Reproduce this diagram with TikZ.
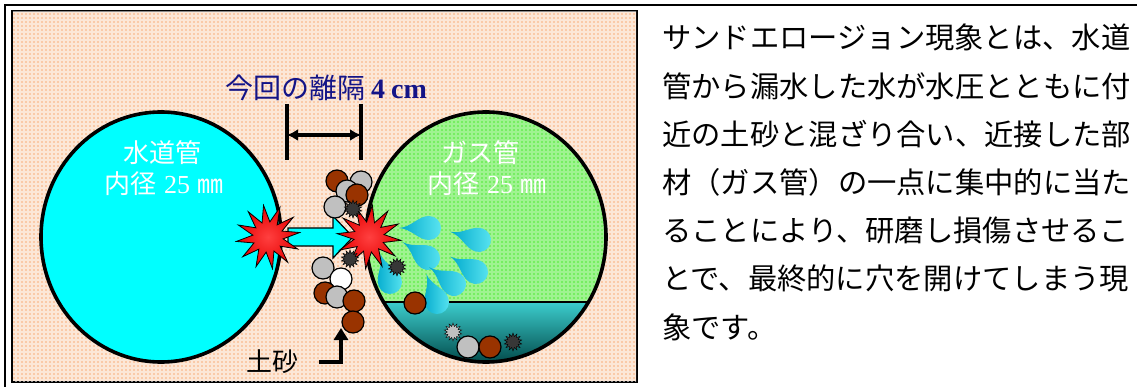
\documentclass[tikz,border=0pt]{standalone}
\usepackage{fontspec}
\usepackage{tikz}
\usetikzlibrary{shapes.geometric,arrows.meta}

\newfontfamily\jp{Noto Sans CJK JP}
\newfontfamily\numfont{Liberation Serif}

\definecolor{peach}{RGB}{250,202,168}
\definecolor{gaspipe}{RGB}{118,238,98}
\definecolor{waterpipe}{RGB}{0,255,255}
\definecolor{sandbrown}{RGB}{153,51,0}
\definecolor{sandgray}{RGB}{192,192,192}
\definecolor{gritdark}{RGB}{55,55,55}
\definecolor{gaptext}{RGB}{20,20,135}
\definecolor{pooltop}{RGB}{60,205,205}
\definecolor{poolbottom}{RGB}{0,70,70}
\definecolor{dropdark}{RGB}{0,170,205}
\definecolor{droplight}{RGB}{90,228,240}

%% one water drop: head at (#1,#2), tail turned by #3
\newcommand{\waterdrop}[3]{%
  \begin{scope}[shift={(#1,#2)},rotate=#3]
    \shade[left color=dropdark, right color=droplight]
      (-30,0) .. controls (-17,-1) and (-11,-12) .. (0,-12)
      arc[start angle=-90,end angle=90,radius=12]
      .. controls (-11,12) and (-17,1) .. (-30,0);
  \end{scope}}

\begin{document}
\begin{tikzpicture}[x=1pt,y=-1pt,
  particle/.style={circle,draw=black,line width=1.2pt,minimum size=22,inner sep=0},
  brownsand/.style={particle,fill=sandbrown},
  graysand/.style={particle,fill=sandgray},
  whitesand/.style={particle,fill=white},
  grit/.style={star,star points=14,star point ratio=1.6,minimum size=18,inner sep=0,draw=black,fill=gritdark},
  burst/.style={star,star points=12,star point ratio=2.1,minimum size=64,inner sep=0,
    draw=black,line width=.8pt,inner color=red!75!white,outer color=red!90!black},
  pipelabel/.style={text=white,font=\fontsize{26}{26}\selectfont},
  desc/.style={anchor=base west,inner sep=0,font=\jp\fontsize{29.3}{29.3}\selectfont}
]
\useasboundingbox (0,0) rectangle (1137,387);

%% table lines
\draw[line width=1.6] (5,387) -- (5,5) -- (1137,5);

%% panel
\filldraw[fill=peach,draw=black,line width=2.2] (12,11) rectangle (637,382);
\begin{scope}
\clip (13,12) rectangle (636,381);
\draw[white,line width=1.1pt,opacity=.55,step=4pt] (12,11) grid (637,382);
\end{scope}

%% water pipe
\filldraw[fill=waterpipe,draw=black,line width=3.6] (161,237) ellipse [x radius=120,y radius=125];

%% gas pipe, with water pooled at the bottom
\fill[gaspipe] (486,237) ellipse [x radius=120,y radius=125];
\begin{scope}
\clip (486,237) ellipse [x radius=120,y radius=125];
\draw[white,line width=1.1pt,opacity=.3,step=4pt] (360,110) grid (610,365);
\shade[top color=pooltop,bottom color=poolbottom] (360,302) rectangle (610,365);
\draw[line width=1.4] (360,302) -- (610,302);
\end{scope}
\draw[line width=3.6] (486,237) ellipse [x radius=120,y radius=125];

%% spray
\waterdrop{429}{228}{0}
\waterdrop{479}{240}{-16}
\waterdrop{428}{258}{-32}
\waterdrop{476}{272}{-31}
\waterdrop{390}{282}{-71}
\waterdrop{454}{284}{-34}
\waterdrop{437}{302}{-69}

%% gap between pipes
\node[text=gaptext,inner sep=0] (gap) at (326,88)
  {{\jp\fontsize{28}{28}\selectfont 今回の離隔}\hspace{6pt}{\numfont\fontsize{28}{28}\selectfont\bfseries 4\hspace{6pt}cm}};
\coordinate (gapL) at (287,135);
\coordinate (gapR) at (361,135);
\draw[line width=3.4] (287,104) -- (287,160);
\draw[line width=3.4] (361,104) -- (361,160);
\draw[line width=3.2,{Latex[length=11pt,width=12pt]}-{Latex[length=11pt,width=12pt]}] (gapL) -- (gapR);

%% jet out of the water pipe
\filldraw[fill=waterpipe,draw=black,line width=1.2]
  (288,228) -- (333,228) -- (333,216) -- (353,237) -- (333,258) -- (333,246) -- (288,246) -- cycle;
\node[burst,shape border rotate=8] (leak) at (268,237) {};
\node[burst,shape border rotate=-6] (hit) at (369,237) {};

%% sand above the jet
\node[brownsand] (s1) at (337,181) {};
\node[graysand] (s2) at (361,182) {};
\node[graysand] (s3) at (347,191) {};
\node[brownsand] (s4) at (357,195) {};
\node[graysand] (s5) at (335,207) {};
\node[grit] (g1) at (353,209) {};

%% sand below the jet
\node[grit] (g2) at (350,259) {};
\node[graysand] (s6) at (323,268) {};
\node[whitesand] (s7) at (341,279) {};
\node[brownsand] (s8) at (325,293) {};
\node[graysand] (s9) at (337,297) {};
\node[brownsand] (s10) at (354,301) {};
\node[brownsand] (s11) at (353,322) {};

%% sand inside the gas pipe
\node[grit] (g3) at (397,267) {};
\node[brownsand] (s12) at (415,303) {};
\node[grit,fill=sandgray] (g4) at (453,332) {};
\node[graysand] (s13) at (468,347) {};
\node[brownsand] (s14) at (490,347) {};
\node[grit] (g5) at (513,342) {};

%% labels
\node[pipelabel] (wname) at (162,153) {\jp 水道管};
\node[pipelabel] (wsize) at (164,184) {{\jp 内径} {\numfont 25} {\jp ㎜}};
\node[pipelabel] (gname) at (480,153) {\jp ガス管};
\node[pipelabel] (gsize) at (487,184) {{\jp 内径} {\numfont 25} {\jp ㎜}};

\node[font=\jp\fontsize{26}{26}\selectfont] (sand) at (272,362) {土砂};
\coordinate (sandtip) at (341,328);
\draw[line width=3.4,-{Triangle[length=12pt,width=14pt]}] ([xshift=17]sand.east) -| (sandtip);

%% description
\node[desc] (line1) at (662,49) {サンドエロージョン現象とは、水道};
\node[desc] (line2) at (662,97.2) {管から漏水した水が水圧とともに付};
\node[desc] (line3) at (662,145.4) {近の土砂と混ざり合い、近接した部};
\node[desc] (line4) at (662,193.6) {材（ガス管）の一点に集中的に当た};
\node[desc] (line5) at (662,241.8) {ることにより、研磨し損傷させるこ};
\node[desc] (line6) at (662,290) {とで、最終的に穴を開けてしまう現};
\node[desc] (line7) at (662,338.2) {象です。};

\end{tikzpicture}
\end{document}
